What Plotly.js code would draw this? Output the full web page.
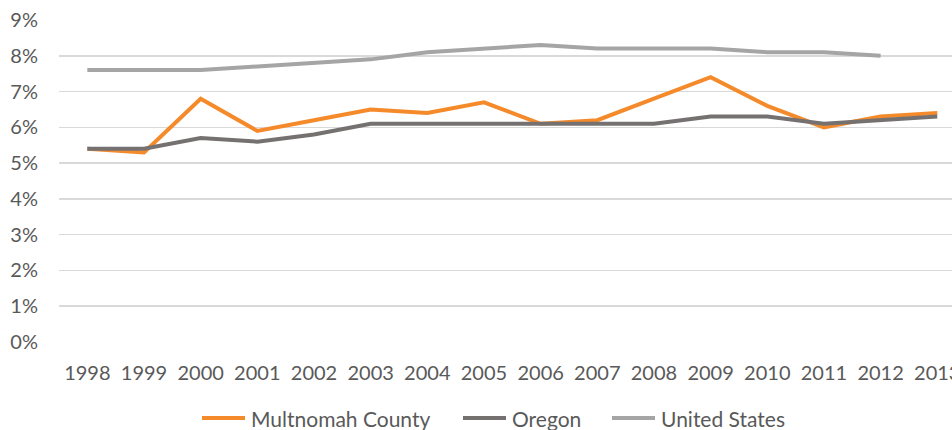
<!DOCTYPE html>
<html><head><meta charset="utf-8">
<script src="https://cdn.plot.ly/plotly-3.0.1.min.js"></script>
<style>html,body{margin:0;padding:0;background:#fff;}#chart{width:952px;height:430px;}</style>
</head><body><div id="chart"></div>
<script>
const years = ['1998','1999','2000','2001','2002','2003','2004','2005','2006','2007','2008','2009','2010','2011','2012','2013'];
const multnomah = [5.4,5.3,6.8,5.9,6.2,6.5,6.4,6.7,6.1,6.2,6.8,7.4,6.6,6.0,6.3,6.4];
const oregon = [5.4,5.4,5.7,5.6,5.8,6.1,6.1,6.1,6.1,6.1,6.1,6.3,6.3,6.1,6.2,6.3];
const unitedStates = [7.6,7.6,7.6,7.7,7.8,7.9,8.1,8.2,8.3,8.2,8.2,8.2,8.1,8.1,8.0,null];
const seriesNames = ['Multnomah County','Oregon','United States'];
const yTicks = [0,1,2,3,4,5,6,7,8,9];
const yTickLabels = yTicks.map(v => v + '%');

// styling / layout (not data)
const colors = ['#F58A2B','#767171','#A5A5A5'];
const W = 952, H = 430, M = {l:59, r:0, t:20, b:88};
const legendLineStartPx = [202, 463, 612];
const legendLineLen = 43, legendTextGap = 4, legendYpx = 418;

const seriesValues = [multnomah, oregon, unitedStates];
const data = seriesNames.map((n, i) => ({
  type:'scatter', mode:'lines', name:n, x:years, y:seriesValues[i],
  line:{color:colors[i], width:4}, connectgaps:false, hoverinfo:'skip', showlegend:false
}));

const pw = W - M.l - M.r, ph = H - M.t - M.b;
const px2x = p => (p - M.l) / pw;
const py2y = p => (H - M.b - p) / ph;
const tickFont = {family:'Lato, "Open Sans", sans-serif', size:20, color:'#595959'};
const legFont = {family:'Lato, "Open Sans", sans-serif', size:21, color:'#595959'};

const shapes = seriesNames.map((n, i) => ({
  type:'line', xref:'paper', yref:'paper',
  x0:px2x(legendLineStartPx[i]), x1:px2x(legendLineStartPx[i] + legendLineLen),
  y0:py2y(legendYpx), y1:py2y(legendYpx),
  line:{color:colors[i], width:4}
}));
const annotations = seriesNames.map((n, i) => ({
  xref:'paper', yref:'paper', x:px2x(legendLineStartPx[i] + legendLineLen + legendTextGap), y:py2y(legendYpx),
  xanchor:'left', yanchor:'middle', text:n, showarrow:false, font:legFont
}));

const layout = {
  width:W, height:H,
  margin:{l:M.l, r:M.r, t:M.t, b:M.b, autoexpand:false},
  paper_bgcolor:'#fff', plot_bgcolor:'#fff',
  font:tickFont, showlegend:false,
  shapes:shapes, annotations:annotations,
  xaxis:{type:'category', range:[-0.5,15.26], automargin:false, showgrid:false, zeroline:false, showline:false, ticks:'', tickfont:tickFont, ticklabelstandoff:17, fixedrange:true},
  yaxis:{range:[0,9], automargin:false, tickvals:yTicks, ticktext:yTickLabels, showgrid:true, gridcolor:'#D9D9D9', gridwidth:1.5, zeroline:false, showline:false, ticks:'', tickfont:tickFont, ticklabelstandoff:20, fixedrange:true}
};
Plotly.newPlot('chart', data, layout, {displayModeBar:false, staticPlot:true});
</script></body></html>
